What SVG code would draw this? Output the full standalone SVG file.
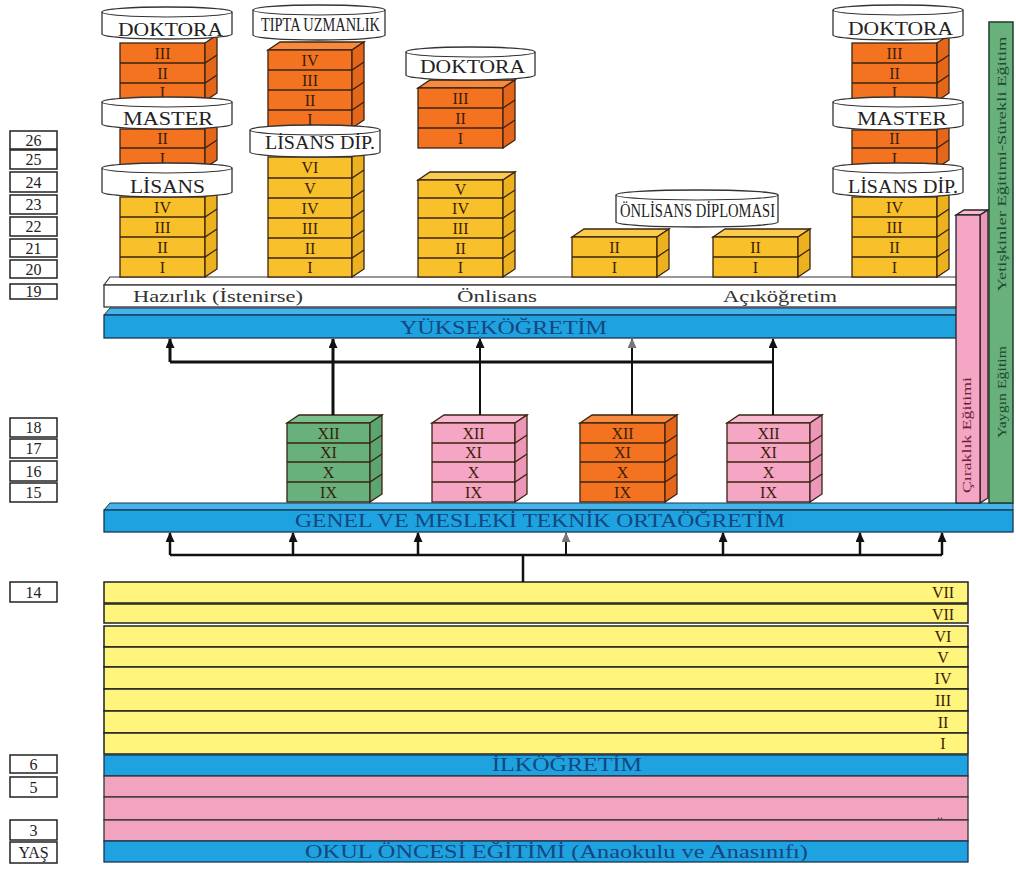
<svg xmlns="http://www.w3.org/2000/svg" width="1016" height="869" viewBox="0 0 1016 869">
<style>
text{font-family:"Liberation Serif","Times New Roman",serif}
.age rect{fill:#fff;stroke:#222;stroke-width:1.5}
.age text{font-size:16px;fill:#222;text-anchor:middle}
.rn{font-size:16px;fill:#3b1e08;text-anchor:middle}
.bk{stroke:#3a2410;stroke-width:1.3}
.ln{fill:none;stroke:#3a2410;stroke-width:1.3}
.or{fill:#F37321}.ors{fill:#E4661B}.ort{fill:#F68B3F}
.ye{fill:#F8C12C}.yes{fill:#ECB11E}.yet{fill:#F9CB4E}
.gr{fill:#68B07C}.grs{fill:#5CA470}.grt{fill:#7BBF8D}
.pk{fill:#F4A6C4}.pks{fill:#EC97B8}.pkt{fill:#F7B8D0}
.cyl{fill:#fff;stroke:#333;stroke-width:1.3}
.cyln{fill:none;stroke:#333;stroke-width:1.1}
.cylt{font-size:18px;fill:#222;text-anchor:middle}
.blue{fill:#1EA3E0;stroke:#1a3550;stroke-width:1.3}
.bluet{fill:#45B4EA;stroke:#1a3550;stroke-width:1}
.bt{fill:#14467f;text-anchor:middle;font-size:18px}
.ystr{fill:#FFF47C;stroke:#222;stroke-width:1.5}
.pstr{fill:#F2A3C0;stroke:#333;stroke-width:1.3}
.lab{font-size:16px;fill:#333;text-anchor:middle}
.vt{font-size:13px;text-anchor:middle}
.cn{fill:none;stroke:#111}
</style>
<defs>
<marker id="ah" markerUnits="userSpaceOnUse" markerWidth="10" markerHeight="10" refX="9" refY="4.5" orient="auto"><path d="M0,0 L10,4.5 L0,9 z" fill="#111"/></marker>
<marker id="ahg" markerUnits="userSpaceOnUse" markerWidth="10" markerHeight="10" refX="9" refY="4.5" orient="auto"><path d="M0,0 L10,4.5 L0,9 z" fill="#777"/></marker>
</defs>
<rect width="1016" height="869" fill="#fff"/>

<!-- Age boxes -->
<g id="ages" class="age">
<rect x="10" y="131" width="47" height="18"/><text x="33.5" y="146">26</text>
<rect x="10" y="150" width="47" height="19"/><text x="33.5" y="165">25</text>
<rect x="10" y="172" width="47" height="20"/><text x="33.5" y="188">24</text>
<rect x="10" y="195" width="47" height="19"/><text x="33.5" y="210">23</text>
<rect x="10" y="217" width="47" height="19"/><text x="33.5" y="232">22</text>
<rect x="10" y="239" width="47" height="18"/><text x="33.5" y="254">21</text>
<rect x="10" y="260" width="47" height="18"/><text x="33.5" y="275">20</text>
<rect x="10" y="284" width="47" height="15"/><text x="33.5" y="297">19</text>
<rect x="10" y="418" width="47" height="19"/><text x="33.5" y="433">18</text>
<rect x="10" y="439" width="47" height="19"/><text x="33.5" y="454">17</text>
<rect x="10" y="461" width="47" height="20"/><text x="33.5" y="477">16</text>
<rect x="10" y="483" width="47" height="19"/><text x="33.5" y="498">15</text>
<rect x="10" y="582" width="47" height="20"/><text x="33.5" y="598">14</text>
<rect x="10" y="755" width="47" height="18"/><text x="33.5" y="770">6</text>
<rect x="10" y="777" width="47" height="20"/><text x="33.5" y="793">5</text>
<rect x="10" y="820" width="47" height="20"/><text x="33.5" y="836">3</text>
<rect x="10" y="842" width="47" height="21"/><text x="33.5" y="858">YAŞ</text>
</g>

<!-- Bottom stripes -->
<g id="ilkogretim">
<rect class="ystr" x="104" y="582" width="864" height="21"/><text class="rn" x="943" y="598">VII</text>
<rect class="ystr" x="104" y="604" width="864" height="19"/><text class="rn" x="943" y="620">VII</text>
<rect class="ystr" x="104" y="626" width="864" height="21"/><text class="rn" x="943" y="642">VI</text>
<rect class="ystr" x="104" y="647" width="864" height="20"/><text class="rn" x="943" y="663">V</text>
<rect class="ystr" x="104" y="667" width="864" height="22"/><text class="rn" x="943" y="684">IV</text>
<rect class="ystr" x="104" y="689" width="864" height="22"/><text class="rn" x="943" y="706">III</text>
<rect class="ystr" x="104" y="711" width="864" height="22"/><text class="rn" x="943" y="728">II</text>
<rect class="ystr" x="104" y="733" width="864" height="21"/><text class="rn" x="943" y="749">I</text>
<rect class="blue" x="104" y="755" width="864" height="21"/>
<text class="bt" x="567" y="771" textLength="150" lengthAdjust="spacingAndGlyphs">İLKÖĞRETİM</text>
</g>
<g id="okuloncesi">
<rect class="pstr" x="104" y="776" width="864" height="21"/>
<rect class="pstr" x="104" y="797" width="864" height="23"/>
<rect class="pstr" x="104" y="820" width="864" height="21"/>
<text x="940" y="819" font-size="12" fill="#333" text-anchor="middle">..</text>
<rect class="blue" x="104" y="841" width="864" height="21"/>
<text class="bt" x="556.5" y="858" textLength="503" lengthAdjust="spacingAndGlyphs">OKUL ÖNCESİ EĞİTİMİ (Anaokulu ve Anasınıfı)</text>
</g>

<!-- Secondary bar -->
<g id="ortaogretim">
<polygon class="bluet" points="104,510 110,503 1013,503 1013,510"/>
<rect class="blue" x="104" y="510" width="909" height="22"/>
<text class="bt" x="540" y="527" textLength="490" lengthAdjust="spacingAndGlyphs">GENEL VE MESLEKİ TEKNİK ORTAÖĞRETİM</text>
</g>

<!-- Higher ed bars -->
<g id="hazirlik">
<polygon fill="#fff" stroke="#333" stroke-width="1.2" points="104,285 110,277 957,277 957,285"/>
<rect fill="#fff" stroke="#333" stroke-width="1.3" x="104" y="285" width="853" height="22"/>
<text class="lab" x="218" y="302" textLength="170" lengthAdjust="spacingAndGlyphs">Hazırlık (İstenirse)</text>
<text class="lab" x="497" y="302" textLength="80" lengthAdjust="spacingAndGlyphs">Önlisans</text>
<text class="lab" x="780" y="302" textLength="114" lengthAdjust="spacingAndGlyphs">Açıköğretim</text>
</g>
<g id="yuksekogretim">
<polygon class="bluet" points="104,315 110,308 957,308 957,315"/>
<rect class="blue" x="104" y="315" width="853" height="23"/>
<text class="bt" x="503.5" y="334" font-size="19" textLength="207" lengthAdjust="spacingAndGlyphs">YÜKSEKÖĞRETİM</text>
</g>

<!-- Side vertical bars -->
<g id="ciraklik">
<polygon class="pkt" stroke="#222" stroke-width="1.3" points="956,215 964,210 988,210 980,215"/>
<polygon class="pks" stroke="#222" stroke-width="1.3" points="980,215 988,210 988,498 980,503"/>
<rect class="pk" stroke="#222" stroke-width="1.3" x="956" y="215" width="24" height="288"/>
<text class="vt" fill="#6a1f38" transform="translate(971,435) rotate(-90)" textLength="116" lengthAdjust="spacingAndGlyphs">Çıraklık Eğitimi</text>
</g>
<g id="yaygin">
<rect class="gr" stroke="#1f3d2a" stroke-width="1.5" x="989" y="22" width="24" height="481"/>
<text class="vt" fill="#1d4a2c" transform="translate(1006,164) rotate(-90)" textLength="255" lengthAdjust="spacingAndGlyphs">Yetişkinler Eğitimi-Sürekli Eğitim</text>
<text class="vt" fill="#1d4a2c" transform="translate(1006,392) rotate(-90)" textLength="92" lengthAdjust="spacingAndGlyphs">Yaygın Eğitim</text>
</g>

<!-- Column 1 -->
<g id="col1">
<rect class="or bk" x="120" y="43" width="85" height="58"/>
<polygon class="ors bk" points="205,43 217,35 217,93 205,101"/>
<path class="ln" d="M120,63H205L217,55M120,83H205L217,75"/>
<text class="rn" x="162.5" y="59">III</text><text class="rn" x="162.5" y="79">II</text><text class="rn" x="162.5" y="98">I</text>
<rect class="or bk" x="120" y="129" width="85" height="39"/>
<polygon class="ors bk" points="205,129 217,121 217,160 205,168"/>
<path class="ln" d="M120,148H205L217,140"/>
<text class="rn" x="162.5" y="144">II</text><text class="rn" x="162.5" y="164">I</text>
<rect class="ye bk" x="120" y="197" width="85" height="80"/>
<polygon class="yes bk" points="205,197 217,189 217,269 205,277"/>
<path class="ln" d="M120,217H205L217,209M120,237H205L217,229M120,257H205L217,249"/>
<text class="rn" x="162.5" y="213">IV</text><text class="rn" x="162.5" y="233">III</text><text class="rn" x="162.5" y="253">II</text><text class="rn" x="162.5" y="273">I</text>
<path class="cyl" d="M102,12A65,5 0 0 1 232,12V34A65,5 0 0 1 102,34Z"/><path class="cyln" d="M102,12A65,5 0 0 0 232,12"/>
<text class="cylt" x="170.5" y="36" textLength="105" lengthAdjust="spacingAndGlyphs">DOKTORA</text>
<path class="cyl" d="M102,102A65,5 0 0 1 232,102V124A65,5 0 0 1 102,124Z"/><path class="cyln" d="M102,102A65,5 0 0 0 232,102"/>
<text class="cylt" x="168" y="125" textLength="90" lengthAdjust="spacingAndGlyphs">MASTER</text>
<path class="cyl" d="M102,168A65,5 0 0 1 232,168V192A65,5 0 0 1 102,192Z"/><path class="cyln" d="M102,168A65,5 0 0 0 232,168"/>
<text class="cylt" x="167.5" y="193" textLength="75" lengthAdjust="spacingAndGlyphs">LİSANS</text>
</g>

<!-- Column 2 -->
<g id="col2">
<polygon class="ort bk" points="268,50 280,42 364,42 352,50"/>
<rect class="or bk" x="268" y="50" width="84" height="78"/>
<polygon class="ors bk" points="352,50 364,42 364,120 352,128"/>
<path class="ln" d="M268,70H352L364,62M268,90H352L364,82M268,110H352L364,102"/>
<text class="rn" x="310" y="66">IV</text><text class="rn" x="310" y="86">III</text><text class="rn" x="310" y="106">II</text><text class="rn" x="310" y="125">I</text>
<rect class="ye bk" x="268" y="157" width="84" height="120"/>
<polygon class="yes bk" points="352,157 364,149 364,269 352,277"/>
<path class="ln" d="M268,178H352L364,170M268,198H352L364,190M268,218H352L364,210M268,238H352L364,230M268,258H352L364,250"/>
<text class="rn" x="310" y="173">VI</text><text class="rn" x="310" y="194">V</text><text class="rn" x="310" y="214">IV</text><text class="rn" x="310" y="234">III</text><text class="rn" x="310" y="254">II</text><text class="rn" x="310" y="273">I</text>
<path class="cyl" d="M253,10A66,5 0 0 1 385,10V35A66,5 0 0 1 253,35Z"/><path class="cyln" d="M253,10A66,5 0 0 0 385,10"/>
<text class="cylt" x="320.5" y="31" font-size="12" textLength="119" lengthAdjust="spacingAndGlyphs">TIPTA UZMANLIK</text>
<path class="cyl" d="M250,130A65,5 0 0 1 380,130V152A65,5 0 0 1 250,152Z"/><path class="cyln" d="M250,130A65,5 0 0 0 380,130"/>
<text class="cylt" x="320" y="149" font-size="17" textLength="110" lengthAdjust="spacingAndGlyphs">LİSANS DİP.</text>
</g>

<!-- Column 3 -->
<g id="col3">
<polygon class="ort bk" points="418,88 430,80 515,80 503,88"/>
<rect class="or bk" x="418" y="88" width="85" height="60"/>
<polygon class="ors bk" points="503,88 515,80 515,140 503,148"/>
<path class="ln" d="M418,108H503L515,100M418,128H503L515,120"/>
<text class="rn" x="460.5" y="104">III</text><text class="rn" x="460.5" y="124">II</text><text class="rn" x="460.5" y="144">I</text>
<polygon class="yet bk" points="418,180 430,172 515,172 503,180"/>
<rect class="ye bk" x="418" y="180" width="85" height="97"/>
<polygon class="yes bk" points="503,180 515,172 515,269 503,277"/>
<path class="ln" d="M418,198H503L515,190M418,218H503L515,210M418,238H503L515,230M418,258H503L515,250"/>
<text class="rn" x="460.5" y="195">V</text><text class="rn" x="460.5" y="214">IV</text><text class="rn" x="460.5" y="234">III</text><text class="rn" x="460.5" y="254">II</text><text class="rn" x="460.5" y="273">I</text>
<path class="cyl" d="M406,52A64.5,5 0 0 1 535,52V75A64.5,5 0 0 1 406,75Z"/><path class="cyln" d="M406,52A64.5,5 0 0 0 535,52"/>
<text class="cylt" x="472.5" y="73" textLength="105" lengthAdjust="spacingAndGlyphs">DOKTORA</text>
</g>

<!-- Column 4 and 5 (Önlisans) -->
<g id="col4">
<polygon class="yet bk" points="572,237 584,229 669,229 657,237"/>
<rect class="ye bk" x="572" y="237" width="85" height="40"/>
<polygon class="yes bk" points="657,237 669,229 669,269 657,277"/>
<path class="ln" d="M572,257H657L669,249"/>
<text class="rn" x="614.5" y="253">II</text><text class="rn" x="614.5" y="273">I</text>
</g>
<g id="col5">
<polygon class="yet bk" points="713,237 725,229 810,229 798,237"/>
<rect class="ye bk" x="713" y="237" width="85" height="40"/>
<polygon class="yes bk" points="798,237 810,229 810,269 798,277"/>
<path class="ln" d="M713,257H798L810,249"/>
<text class="rn" x="755.5" y="253">II</text><text class="rn" x="755.5" y="273">I</text>
</g>
<g id="onlisans-dip">
<path class="cyl" d="M616,195A81,5 0 0 1 778,195V222A81,5 0 0 1 616,222Z"/><path class="cyln" d="M616,195A81,5 0 0 0 778,195"/>
<text class="cylt" x="697.5" y="217" font-size="13" textLength="155" lengthAdjust="spacingAndGlyphs">ÖNLİSANS DİPLOMASI</text>
</g>

<!-- Column 6 -->
<g id="col6">
<rect class="or bk" x="852" y="43" width="85" height="58"/>
<polygon class="ors bk" points="937,43 949,35 949,93 937,101"/>
<path class="ln" d="M852,63H937L949,55M852,83H937L949,75"/>
<text class="rn" x="894.5" y="59">III</text><text class="rn" x="894.5" y="79">II</text><text class="rn" x="894.5" y="98">I</text>
<rect class="or bk" x="852" y="130" width="85" height="38"/>
<polygon class="ors bk" points="937,130 949,122 949,160 937,168"/>
<path class="ln" d="M852,148H937L949,140"/>
<text class="rn" x="894.5" y="144">II</text><text class="rn" x="894.5" y="164">I</text>
<rect class="ye bk" x="852" y="197" width="85" height="80"/>
<polygon class="yes bk" points="937,197 949,189 949,269 937,277"/>
<path class="ln" d="M852,217H937L949,209M852,237H937L949,229M852,257H937L949,249"/>
<text class="rn" x="894.5" y="213">IV</text><text class="rn" x="894.5" y="233">III</text><text class="rn" x="894.5" y="253">II</text><text class="rn" x="894.5" y="273">I</text>
<path class="cyl" d="M833,10A65,5 0 0 1 963,10V35A65,5 0 0 1 833,35Z"/><path class="cyln" d="M833,10A65,5 0 0 0 963,10"/>
<text class="cylt" x="900.5" y="35" textLength="105" lengthAdjust="spacingAndGlyphs">DOKTORA</text>
<path class="cyl" d="M833,102A65,5 0 0 1 963,102V125A65,5 0 0 1 833,125Z"/><path class="cyln" d="M833,102A65,5 0 0 0 963,102"/>
<text class="cylt" x="902" y="125" textLength="90" lengthAdjust="spacingAndGlyphs">MASTER</text>
<path class="cyl" d="M833,168A65,5 0 0 1 963,168V192A65,5 0 0 1 833,192Z"/><path class="cyln" d="M833,168A65,5 0 0 0 963,168"/>
<text class="cylt" x="903" y="193" textLength="110" lengthAdjust="spacingAndGlyphs">LİSANS DİP.</text>
</g>

<!-- Secondary school blocks -->
<g id="sec-genel">
<polygon class="grt bk" points="287,423 299,415 382,415 370,423"/>
<rect class="gr bk" x="287" y="423" width="83" height="79"/>
<polygon class="grs bk" points="370,423 382,415 382,494 370,502"/>
<path class="ln" d="M287,443H370L382,435M287,462H370L382,454M287,482H370L382,474"/>
<text class="rn" x="328.5" y="439">XII</text><text class="rn" x="328.5" y="458">XI</text><text class="rn" x="328.5" y="478">X</text><text class="rn" x="328.5" y="498">IX</text>
</g>
<g id="sec-pink1">
<polygon class="pkt bk" points="432,423 444,415 527,415 515,423"/>
<rect class="pk bk" x="432" y="423" width="83" height="79"/>
<polygon class="pks bk" points="515,423 527,415 527,494 515,502"/>
<path class="ln" d="M432,443H515L527,435M432,462H515L527,454M432,482H515L527,474"/>
<text class="rn" x="473.5" y="439">XII</text><text class="rn" x="473.5" y="458">XI</text><text class="rn" x="473.5" y="478">X</text><text class="rn" x="473.5" y="498">IX</text>
</g>
<g id="sec-orange">
<polygon class="ort bk" points="580,423 592,415 677,415 665,423"/>
<rect class="or bk" x="580" y="423" width="85" height="79"/>
<polygon class="ors bk" points="665,423 677,415 677,494 665,502"/>
<path class="ln" d="M580,443H665L677,435M580,462H665L677,454M580,482H665L677,474"/>
<text class="rn" x="622.5" y="439">XII</text><text class="rn" x="622.5" y="458">XI</text><text class="rn" x="622.5" y="478">X</text><text class="rn" x="622.5" y="498">IX</text>
</g>
<g id="sec-pink2">
<polygon class="pkt bk" points="727,423 739,415 822,415 810,423"/>
<rect class="pk bk" x="727" y="423" width="83" height="79"/>
<polygon class="pks bk" points="810,423 822,415 822,494 810,502"/>
<path class="ln" d="M727,443H810L822,435M727,462H810L822,454M727,482H810L822,474"/>
<text class="rn" x="768.5" y="439">XII</text><text class="rn" x="768.5" y="458">XI</text><text class="rn" x="768.5" y="478">X</text><text class="rn" x="768.5" y="498">IX</text>
</g>

<!-- Connectors -->
<g id="connectors">
<path class="cn" stroke-width="3" d="M170,362H773"/>
<line class="cn" stroke-width="3" x1="170" y1="362" x2="170" y2="339" marker-end="url(#ah)"/>
<line class="cn" stroke-width="3" x1="333" y1="415" x2="333" y2="339" marker-end="url(#ah)"/>
<line class="cn" stroke-width="2" x1="480" y1="415" x2="480" y2="339" marker-end="url(#ah)"/>
<line class="cn" stroke-width="2" stroke="#777" x1="632" y1="415" x2="632" y2="339" marker-end="url(#ahg)"/>
<line class="cn" stroke-width="2" x1="773" y1="415" x2="773" y2="339" marker-end="url(#ah)"/>
<path class="cn" stroke-width="2.5" d="M170,555H942M523,555V582"/>
<line class="cn" stroke-width="2.5" x1="170" y1="555" x2="170" y2="533" marker-end="url(#ah)"/>
<line class="cn" stroke-width="2.5" x1="293" y1="555" x2="293" y2="533" marker-end="url(#ah)"/>
<line class="cn" stroke-width="2.5" x1="418" y1="555" x2="418" y2="533" marker-end="url(#ah)"/>
<line class="cn" stroke-width="2" stroke="#777" x1="566" y1="555" x2="566" y2="533" marker-end="url(#ahg)"/>
<line class="cn" stroke-width="2.5" x1="723" y1="555" x2="723" y2="533" marker-end="url(#ah)"/>
<line class="cn" stroke-width="2.5" x1="860" y1="555" x2="860" y2="533" marker-end="url(#ah)"/>
<line class="cn" stroke-width="2.5" x1="942" y1="555" x2="942" y2="533" marker-end="url(#ah)"/>
</g>
</svg>
